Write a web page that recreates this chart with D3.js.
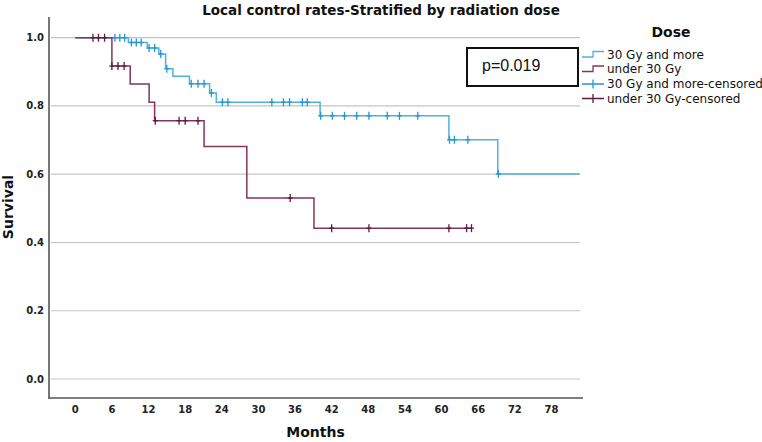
<!DOCTYPE html>
<html><head><meta charset="utf-8">
<script src="https://cdn.jsdelivr.net/npm/d3@7"></script>
<style>body{margin:0;background:#fff}svg{display:block}</style>
</head><body>
<script>
// ---- data (months, survival) ----
const xTicks = [0,6,12,18,24,30,36,42,48,54,60,66,72,78];
const yTicks = [0.0,0.2,0.4,0.6,0.8,1.0];
const seriesNames = ["30 Gy and more","under 30 Gy","30 Gy and more-censored","under 30 Gy-censored"];

const highEventTimes = [8.7, 11.8, 13.7, 14.8, 16.0, 18.7, 22.0, 23.1, 40.1, 61.2, 69.2];
const highSurvival   = [0.986,0.970,0.952,0.909,0.887,0.865,0.838,0.811,0.771,0.701,0.601];
const highCensorTimes = [6.5,7.3,8.1, 9.2,10.0,10.8, 12.1,13.0, 14.0, 15.0, 19.0,20.1,21.1, 22.3,
  24.1,25.0,32.2,34.1,35.1,37.2,38.0, 40.2,42.1,44.1,46.1,48.1,51.1,53.1,56.1, 61.3,62.1,64.3, 69.3];
const highEndTime = 82.6;

const lowEventTimes = [6.0, 9.0, 12.1, 13.0, 21.1, 28.1, 39.1];
const lowSurvival   = [0.917,0.864,0.811,0.757,0.681,0.530,0.442];
const lowCensorTimes = [2.9,3.8,4.8, 6.0,7.0,8.0, 13.1,17.0,18.0,20.1, 35.2, 42.0,48.1,61.2,64.1,64.9];
const lowEndTime = 64.9;

const pText = "p=0.019";

// ---- layout ----
const W = 762, H = 442;
const svg = d3.select("body").append("svg").attr("width", W).attr("height", H);
const x = d3.scaleLinear().domain([-4.3, 83]).range([49, 582]);
const y = d3.scaleLinear().domain([0, 1]).range([379, 37.7]);

const blueLine = "#4fb2db", blueMark = "#2496d2";
const redLine = "#83365a", redMark = "#5c1a3d";
const font = "DejaVu Sans, sans-serif";

// gridlines
svg.append("g").selectAll("line").data(yTicks).join("line")
  .attr("x1", 51).attr("x2", 580).attr("y1", d => y(d)).attr("y2", d => y(d))
  .attr("stroke", "#c4c4c4").attr("stroke-width", 1.2);

// axes lines
svg.append("line").attr("x1", 49).attr("x2", 49).attr("y1", 17).attr("y2", 398.5)
  .attr("stroke", "#555").attr("stroke-width", 1.6);
svg.append("line").attr("x1", 48.2).attr("x2", 583).attr("y1", 398).attr("y2", 398)
  .attr("stroke", "#555").attr("stroke-width", 1.6);

// tick labels
svg.append("g").selectAll("text").data(yTicks).join("text")
  .attr("x", 44).attr("y", d => y(d)).attr("dy", "0.35em").attr("text-anchor", "end")
  .attr("font-family", font).attr("font-size", 10).attr("font-weight", "bold").attr("fill", "#222")
  .text(d => d.toFixed(1));
svg.append("g").selectAll("text").data(xTicks).join("text")
  .attr("x", d => x(d)).attr("y", 413).attr("text-anchor", "middle")
  .attr("font-family", font).attr("font-size", 10).attr("font-weight", "bold").attr("fill", "#222")
  .text(d => d);

// axis titles
svg.append("text").attr("x", 315.5).attr("y", 437).attr("text-anchor", "middle")
  .attr("font-family", font).attr("font-size", 14).attr("font-weight", "bold").attr("fill", "#111").text("Months");
svg.append("text").attr("transform", "translate(13,207) rotate(-90)").attr("text-anchor", "middle")
  .attr("font-family", font).attr("font-size", 14).attr("font-weight", "bold").attr("fill", "#111").text("Survival");

// title
svg.append("text").attr("x", 381).attr("y", 15).attr("text-anchor", "middle")
  .attr("font-family", font).attr("font-size", 13.5).attr("font-weight", "bold").attr("fill", "#111")
  .text("Local control rates-Stratified by radiation dose");

// KM curves
function stepPoints(times, surv, end) {
  const pts = [[0, 1]];
  times.forEach((t, i) => pts.push([t, surv[i]]));
  pts.push([end, surv[surv.length - 1]]);
  return pts;
}
function survAt(t, times, surv) {
  let s = 1;
  times.forEach((tt, i) => { if (t >= tt) s = surv[i]; });
  return s;
}
const line = d3.line().x(d => x(d[0])).y(d => y(d[1])).curve(d3.curveStepAfter);

function drawSeries(times, surv, end, censor, lc, mc) {
  svg.append("path").datum(stepPoints(times, surv, end)).attr("d", line)
    .attr("fill", "none").attr("stroke", lc).attr("stroke-width", 1.5);
  const g = svg.append("g").attr("stroke", mc).attr("stroke-width", 1.3);
  censor.forEach(t => {
    const cx = x(t), cy = y(survAt(t, times, surv));
    g.append("line").attr("x1", cx).attr("x2", cx).attr("y1", cy - 4).attr("y2", cy + 4);
    g.append("line").attr("x1", cx - 2.5).attr("x2", cx + 2.5).attr("y1", cy).attr("y2", cy);
  });
}
drawSeries(highEventTimes, highSurvival, highEndTime, highCensorTimes, blueLine, blueMark);
drawSeries(lowEventTimes, lowSurvival, lowEndTime, lowCensorTimes, redLine, redMark);

// p-value box
svg.append("rect").attr("x", 467).attr("y", 48).attr("width", 111).attr("height", 38)
  .attr("fill", "#fff").attr("stroke", "#111").attr("stroke-width", 2);
svg.append("text").attr("x", 482).attr("y", 70.5)
  .attr("font-family", "Liberation Sans, Arial, sans-serif").attr("font-size", 16).attr("fill", "#111").text(pText);

// legend
svg.append("text").attr("x", 671).attr("y", 37).attr("text-anchor", "middle")
  .attr("font-family", font).attr("font-size", 14).attr("font-weight", "bold").attr("fill", "#111").text("Dose");
const legY = [54.5, 69, 84, 98.5];
const legCol = [blueLine, redLine, blueMark, redMark];
seriesNames.forEach((name, i) => {
  const cy = legY[i];
  if (i < 2) {
    svg.append("path").attr("d", `M582,${cy + 2.5}H593V${cy - 3}H604`)
      .attr("fill", "none").attr("stroke", legCol[i]).attr("stroke-width", 1.3);
  } else {
    svg.append("path").attr("d", `M582,${cy}H604M593,${cy - 4.5}V${cy + 4.5}`)
      .attr("fill", "none").attr("stroke", legCol[i]).attr("stroke-width", 1.3);
  }
  svg.append("text").attr("x", 607).attr("y", cy).attr("dy", "0.35em")
    .attr("font-family", font).attr("font-size", 12).attr("fill", "#111").text(name);
});
</script>
</body></html>
